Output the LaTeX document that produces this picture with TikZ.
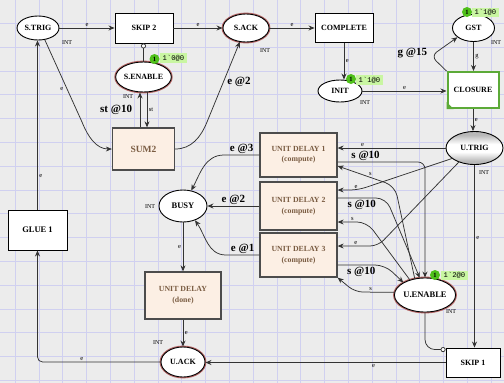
\documentclass[tikz,border=0pt]{standalone}
\usepackage{fontspec}
\setmainfont{Liberation Serif}
\setmonofont{Liberation Mono}
\usetikzlibrary{arrows.meta,shapes.geometric,calc}
\definecolor{bgc}{HTML}{ECECEC}
\definecolor{gridc}{HTML}{D0D0F0}
\definecolor{peach}{HTML}{FCEFE4}
\definecolor{brownt}{HTML}{7A5C42}
\definecolor{rim}{HTML}{B46464}
\definecolor{closg}{HTML}{5CAA38}
\definecolor{tokg}{HTML}{4FC01A}
\definecolor{tokl}{HTML}{C9F6A2}
\definecolor{arcc}{HTML}{333333}
\definecolor{utg}{HTML}{B8B8B8}
\pgfdeclareverticalshading{utrigsh}{100bp}{color(0bp)=(utg); color(30bp)=(utg); color(44bp)=(white); color(56bp)=(white); color(70bp)=(utg); color(100bp)=(utg)}
\begin{document}
\begin{tikzpicture}[x=1pt,y=-1pt,
  place/.style={ellipse, draw=black, line width=0.9pt, fill=white, inner sep=0pt, font=\bfseries\fontsize{8}{9}\selectfont},
  rplace/.style={place, preaction={draw=rim, line width=2.8pt}},
  tbox/.style={rectangle, draw=black, line width=0.9pt, fill=white, inner sep=0pt, font=\bfseries\fontsize{8}{9}\selectfont},
  cbox/.style={rectangle, draw=black!70, line width=1.3pt, fill=peach, text=brownt, align=center, inner sep=0pt, font=\bfseries\fontsize{7.8}{10.5}\selectfont},
  arc/.style={draw=arcc, line width=0.75pt, -{Stealth[length=6pt,width=5pt]}},
  inh/.style={draw=arcc, line width=0.75pt, -{Circle[length=5pt, fill=white]}},
  lab/.style={font=\fontsize{6.5}{7}\selectfont, inner sep=1.5pt},
  blab/.style={font=\bfseries\fontsize{11}{12}\selectfont, inner sep=1.5pt},
  intl/.style={font=\fontsize{6}{7}\selectfont, inner sep=0pt},
  tokc/.style={circle, fill=tokg, inner sep=0pt, minimum size=10pt, font=\bfseries\fontsize{6.5}{7}\selectfont},
  tokb/.style={fill=tokl, inner xsep=2.5pt, inner ysep=1.8pt, font=\ttfamily\fontsize{7.2}{8}\selectfont}
]
\useasboundingbox (0,0) rectangle (504,383);
\fill[bgc] (0,0) rectangle (504,383);
\foreach \k in {0,...,20} \draw[gridc, line width=0.5pt] ({15+23.8*\k},0) -- ({15+23.8*\k},383);
\foreach \k in {0,...,15} \draw[gridc, line width=0.5pt] (0,{23.2+23.8*\k}) -- (504,{23.2+23.8*\k});

% places and transitions
\node[place, minimum width=42, minimum height=24] (strig) at (38,28) {S.TRIG};
\node[tbox, minimum width=58, minimum height=30] (skip2) at (144,28) {SKIP 2};
\node[rplace, minimum width=55, minimum height=30] (senable) at (143.5,77) {S.ENABLE};
\node[rplace, minimum width=46, minimum height=28] (sack) at (246,28) {S.ACK};
\node[tbox, minimum width=58, minimum height=29] (complete) at (344,28) {COMPLETE};
\node[place, minimum width=42, minimum height=27] (gst) at (473.5,28) {GST};
\node[place, minimum width=44, minimum height=22] (init) at (340,91) {INIT};
\node[tbox, draw=closg, line width=2pt, minimum width=51, minimum height=36] (closure) at (473,90) {CLOSURE};
\fill[closg] (closure.south west) -- ++(7,0) -- ++(-7,-7) -- cycle;
\node[place, shade, shading=utrigsh, minimum width=57, minimum height=33] (utrig) at (474.5,148) {U.TRIG};
\node[cbox, minimum width=77, minimum height=44] (ud1) at (298.5,155) {UNIT DELAY 1\\(compute)};
\node[cbox, minimum width=77, minimum height=48] (ud2) at (298.5,206) {UNIT DELAY 2\\(compute)};
\node[cbox, minimum width=77, minimum height=44] (ud3) at (298.5,255) {UNIT DELAY 3\\(compute)};
\node[cbox, font=\bfseries\fontsize{9.5}{11}\selectfont, minimum width=62, minimum height=42] (sum2) at (143.5,149) {SUM2};
\node[place, font=\bfseries\fontsize{8.5}{9}\selectfont, minimum width=48, minimum height=32] (busy) at (183,206) {BUSY};
\node[cbox, minimum width=76, minimum height=47] (udd) at (183,295.5) {UNIT DELAY\\(done)};
\node[rplace, minimum width=44, minimum height=30] (uack) at (183,362) {U.ACK};
\node[tbox, font=\bfseries\fontsize{8.5}{9}\selectfont, minimum width=59, minimum height=40] (glue1) at (37.5,230) {GLUE 1};
\node[rplace, font=\bfseries\fontsize{8.5}{9}\selectfont, minimum width=54, minimum height=34] (uenable) at (425,295) {U.ENABLE};
\node[tbox, minimum width=54, minimum height=29] (skip1) at (473,362.5) {SKIP 1};

% colour set labels
\node[intl] (iS) at (67,43) {INT};
\node[intl] (iSE) at (128,97) {INT};
\node[intl] (iSA) at (265,51) {INT};
\node[intl] (iG) at (496,43) {INT};
\node[intl] (iI) at (365,103) {INT};
\node[intl] (iU) at (484,173) {INT};
\node[intl] (iB) at (150,207) {INT};
\node[intl] (iUA) at (158,343) {INT};
\node[intl] (iUE) at (451,312) {INT};

% arcs, top row
\draw[arc] (strig.east) -- node[lab,above]{e} (skip2.west);
\draw[arc] (skip2.east) -- node[lab,above]{e} (sack.west);
\draw[arc] (sack.east) -- node[lab,above]{e} (complete.west);
\draw[arc] (complete.south) -- node[lab,right]{e} (complete.south |- init.north);
\draw[arc] (init.east) -- node[lab,above]{e} (init.east -| closure.west);
\draw[arc, rounded corners=7pt] (closure.north west) -- (431,56) node[blab, left=2pt, yshift=3pt]{g @15} -- (gst.210);
\draw[arc] (gst.south) -- node[lab,right]{g} (gst.south |- closure.north);
\draw[arc] (closure.south) -- node[lab,right]{e} (closure.south |- utrig.north);
\draw[arc] (utrig.south) -- node[lab,right,pos=0.4]{e} (utrig.south |- skip1.north);
\draw[arc] (skip1.west) -- node[lab,below,pos=0.3]{e} (skip1.west -| uack.east);
\draw[arc, rounded corners=5pt] (uack.west) -| node[lab,above,pos=0.32]{e} (glue1.south);
\draw[arc] (glue1.north) -- node[lab,right,pos=0.2]{e} (glue1.north |- strig.south);
\draw[arc] (strig.300) -- node[lab,left=2pt,pos=0.6]{e} (82,122) to[out=-68,in=180] (sum2.west);
\draw[arc] ([xshift=3.5pt]senable.south) -- node[lab,right]{st} ([xshift=3.5pt]senable.south |- sum2.north);
\draw[arc] ([xshift=-3.5pt]sum2.north) -- node[blab,left=6pt]{st @10} ([xshift=-3.5pt]sum2.north |- senable.south);
\draw[arc] (sum2.east) to[out=0,in=-112] (207,122) -- node[blab,right=2pt]{e @2} (sack.246);
\draw[inh] (senable.north) -- (senable.north |- skip2.south);

% U.TRIG to unit delays
\draw[arc] (utrig.west) -- node[lab,above,pos=0.77]{e} (utrig.west -| ud1.east);
\draw[arc, rounded corners=8pt] (utrig.205) -- (358,190) -- node[lab,above,pos=0.1]{e} ([yshift=16pt]ud2.east);
\draw[arc, rounded corners=8pt] (utrig.222) -- (378,246) -- node[lab,above,pos=0.55]{e} ([yshift=9pt]ud3.east);

% unit delays and U.ENABLE
\draw[arc, rounded corners=7pt] ([yshift=-7pt]ud1.east) -| node[blab,above,pos=0.16]{s @10} (uenable.north);
\draw[arc, rounded corners=10pt] (uenable.122) -- (395,186) -- node[lab,above,pos=0.43]{s} ([yshift=-11pt]ud1.east);
\draw[arc, rounded corners=10pt] ([yshift=8pt]ud2.east) -- node[blab,below,pos=0.5]{s @10} (386,198) -- (uenable.107);
\draw[arc, rounded corners=10pt] (uenable.135) -- (367,222) -- node[lab,above]{s} ([yshift=-16pt]ud2.east);
\draw[arc, rounded corners=10pt] ([yshift=-10pt]ud3.east) -- node[blab,below,pos=0.5]{s @10} (385,265) -- (uenable.150);
\draw[arc, rounded corners=8pt] (uenable.175) -- node[lab,above,pos=0.6]{s} (355,292) -- (ud3.south east);
\draw[inh, rounded corners=10pt] (uenable.south) |- ([yshift=-2pt]skip1.north west);

% unit delays to BUSY
\draw[arc] (ud1.west) -- node[blab,above]{e @3} (224,155) to[out=180,in=62] (busy.62);
\draw[arc] (ud2.west) -- node[blab,above]{e @2} (busy.east);
\draw[arc] (ud3.west) -- node[blab,above]{e @1} (226,255) to[out=180,in=-55] (busy.-50);
\draw[arc] (busy.south) -- node[lab,left]{e} (udd.north);
\draw[arc] (udd.south) -- node[lab,right]{e} (uack.north);

% tokens
\node[tokb, anchor=west] (t1b) at (160,58) {1\textasciigrave 0@0};
\node[tokc] (t1c) at (154.5,59) {1};
\node[tokb, anchor=west] (t2b) at (472,12.5) {1\textasciigrave 1@0};
\node[tokc] (t2c) at (467,12) {1};
\node[tokb, anchor=west] (t3b) at (356,80) {1\textasciigrave 1@0};
\node[tokc] (t3c) at (351,79) {1};
\node[tokb, anchor=west] (t4b) at (441,275.5) {1\textasciigrave 2@0};
\node[tokc] (t4c) at (435,275) {1};
\end{tikzpicture}
\end{document}
